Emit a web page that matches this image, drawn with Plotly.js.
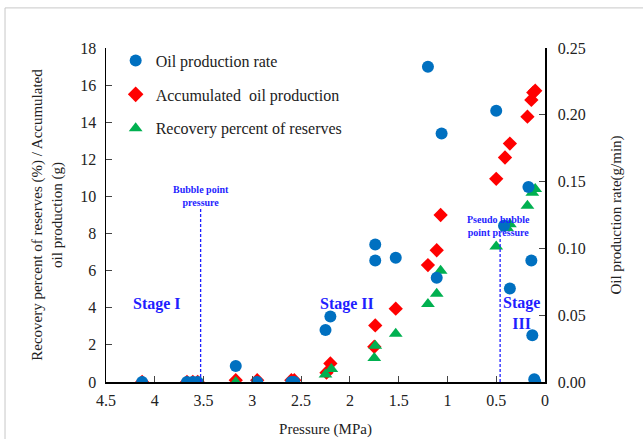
<!DOCTYPE html>
<html><head><meta charset="utf-8">
<script src="https://cdn.plot.ly/plotly-3.0.1.min.js"></script>
<style>html,body{margin:0;padding:0;background:#fff}#c{width:643px;height:439px}</style>
</head><body><div id="c"></div>
<script>
// Oil production rate (right axis, g/min)
const rateP = [4.13, 3.67, 3.61, 3.56, 3.17, 2.95, 2.60, 2.57, 2.25, 2.20, 1.74, 1.74, 1.53, 1.20, 1.11, 1.06, 0.50, 0.42, 0.36, 0.17, 0.14, 0.13, 0.11, 0.10];
const rateV = [0.000, 0.000, 0.000, 0.000, 0.012, 0.000, 0.000, 0.000, 0.039, 0.049, 0.103, 0.091, 0.093, 0.236, 0.078, 0.186, 0.203, 0.117, 0.070, 0.146, 0.091, 0.035, 0.002, 0.000];
// Accumulated oil production (g)
const accP = [4.13, 3.67, 3.61, 3.56, 3.17, 2.95, 2.60, 2.57, 2.24, 2.20, 1.75, 1.74, 1.53, 1.20, 1.11, 1.07, 0.50, 0.41, 0.36, 0.18, 0.14, 0.12, 0.10];
const accV = [0.0, 0.0, 0.0, 0.0, 0.1, 0.1, 0.1, 0.1, 0.5, 1.0, 1.9, 3.05, 3.95, 6.3, 7.1, 9.0, 10.95, 12.1, 12.85, 14.3, 15.2, 15.6, 15.7];
// Recovery percent of reserves (%)
const recP = [4.13, 3.67, 3.61, 3.56, 3.17, 2.95, 2.60, 2.57, 2.25, 2.19, 1.75, 1.74, 1.53, 1.20, 1.11, 1.07, 0.50, 0.39, 0.36, 0.18, 0.13, 0.10];
const recV = [0.0, 0.0, 0.0, 0.0, 0.0, 0.0, 0.0, 0.0, 0.4, 0.7, 1.3, 1.95, 2.6, 4.2, 4.75, 6.0, 7.3, 8.3, 8.5, 9.5, 10.2, 10.4];
const bubbleP = 3.53, pseudoP = 0.46;
const xTicks = [4.5, 4, 3.5, 3, 2.5, 2, 1.5, 1, 0.5, 0];

const serif = "'Liberation Serif', 'Times New Roman', serif";
const ink = '#222';
const blueText = "#1f1fff";
const tf = {family: serif, size: 16, color: ink};
const ttl = {family: serif, size: 15, color: ink};
const traces = [
  {x: rateP, y: rateV, yaxis: 'y2', type: 'scatter', mode: 'markers', name: 'Oil production rate', legendgroup: 'a',
   marker: {symbol: 'circle', size: 12, color: '#0070c0'}},
  {x: accP, y: accV, type: 'scatter', mode: 'markers', name: 'Accumulated  oil production', legendgroup: 'b',
   marker: {symbol: 'diamond', size: 11, color: '#ff0000'}},
  {x: recP, y: recV, type: 'scatter', mode: 'markers', name: 'Recovery percent of reserves', legendgroup: 'c',
   marker: {symbol: 'triangle-up', size: 12, color: '#00b050'}}
];
const layout = {
  width: 643, height: 439,
  margin: {l: 106, r: 98, t: 48, b: 57},
  paper_bgcolor: '#fff', plot_bgcolor: '#fff',
  font: {family: serif, color: ink},
  showlegend: true,
  legend: {x: 0.022, y: 1.013, xanchor: 'left', yanchor: 'top', font: {family: serif, size: 16, color: ink},
           bgcolor: 'rgba(0,0,0,0)', traceorder: 'grouped', tracegroupgap: 10, itemsizing: 'constant'},
  xaxis: {range: [4.5, 0], tickvals: xTicks, ticktext: xTicks.map(String), ticks: 'inside', ticklen: 6,
          showline: true, linecolor: '#000', linewidth: 1.5, showgrid: false, zeroline: false, ticklabelstandoff: 3,
          tickfont: tf, title: {text: 'Pressure (MPa)', font: ttl, standoff: 16}},
  yaxis: {range: [0, 18], dtick: 2, ticks: 'inside', ticklen: 6, showline: true, linecolor: '#000', linewidth: 1.5,
          showgrid: false, zeroline: false, tickfont: tf, ticklabelstandoff: 5,
          title: {text: 'Recovery percent of reserves (%) / Accumulated<br>oil production (g)', font: ttl, standoff: 14}},
  yaxis2: {range: [0, 0.25], dtick: 0.05, tickformat: '.2f', overlaying: 'y', side: 'right', ticks: 'inside', ticklen: 6,
           showline: true, linecolor: '#000', linewidth: 1.5, showgrid: false, zeroline: false, tickfont: tf,
           ticklabelstandoff: 8,
           title: {text: 'Oil production rate(g/min)', font: ttl, standoff: 26}},
  shapes: [
    {type: 'line', xref: 'x', yref: 'y', x0: bubbleP, x1: bubbleP, y0: 0, y1: 9.4, line: {color: '#2020ff', width: 1.3, dash: '3px,2px'}},
    {type: 'line', xref: 'x', yref: 'y', x0: pseudoP, x1: pseudoP, y0: 0, y1: 7.9, line: {color: '#2020ff', width: 1.3, dash: '3px,2px'}},
    {type: 'rect', xref: 'paper', yref: 'paper', x0: -0.230, x1: 1.3, y0: -0.3, y1: 1.12, line: {color: '#c8c8c8', width: 1}}
  ],
  annotations: [
    {xref: 'x', yref: 'y', x: 3.53, y: 10.0, text: '<b>Bubble point<br>pressure</b>', showarrow: false, font: {family: serif, size: 10, color: blueText}},
    {xref: 'x', yref: 'y', x: 0.48, y: 8.4, text: '<b>Pseudo bubble<br>point pressure</b>', showarrow: false, font: {family: serif, size: 10, color: blueText}},
    {xref: 'x', yref: 'y', x: 3.98, y: 4.2, text: '<b>Stage I</b>', showarrow: false, font: {family: serif, size: 16, color: blueText}},
    {xref: 'x', yref: 'y', x: 2.03, y: 4.2, text: '<b>Stage II</b>', showarrow: false, font: {family: serif, size: 16, color: blueText}},
    {xref: 'x', yref: 'y', x: 0.24, y: 3.7, text: '<b>Stage<br>III</b>', showarrow: false, font: {family: serif, size: 16, color: blueText}}
  ]
};
Plotly.newPlot('c', traces, layout, {displayModeBar: false, staticPlot: true});
</script></body></html>
